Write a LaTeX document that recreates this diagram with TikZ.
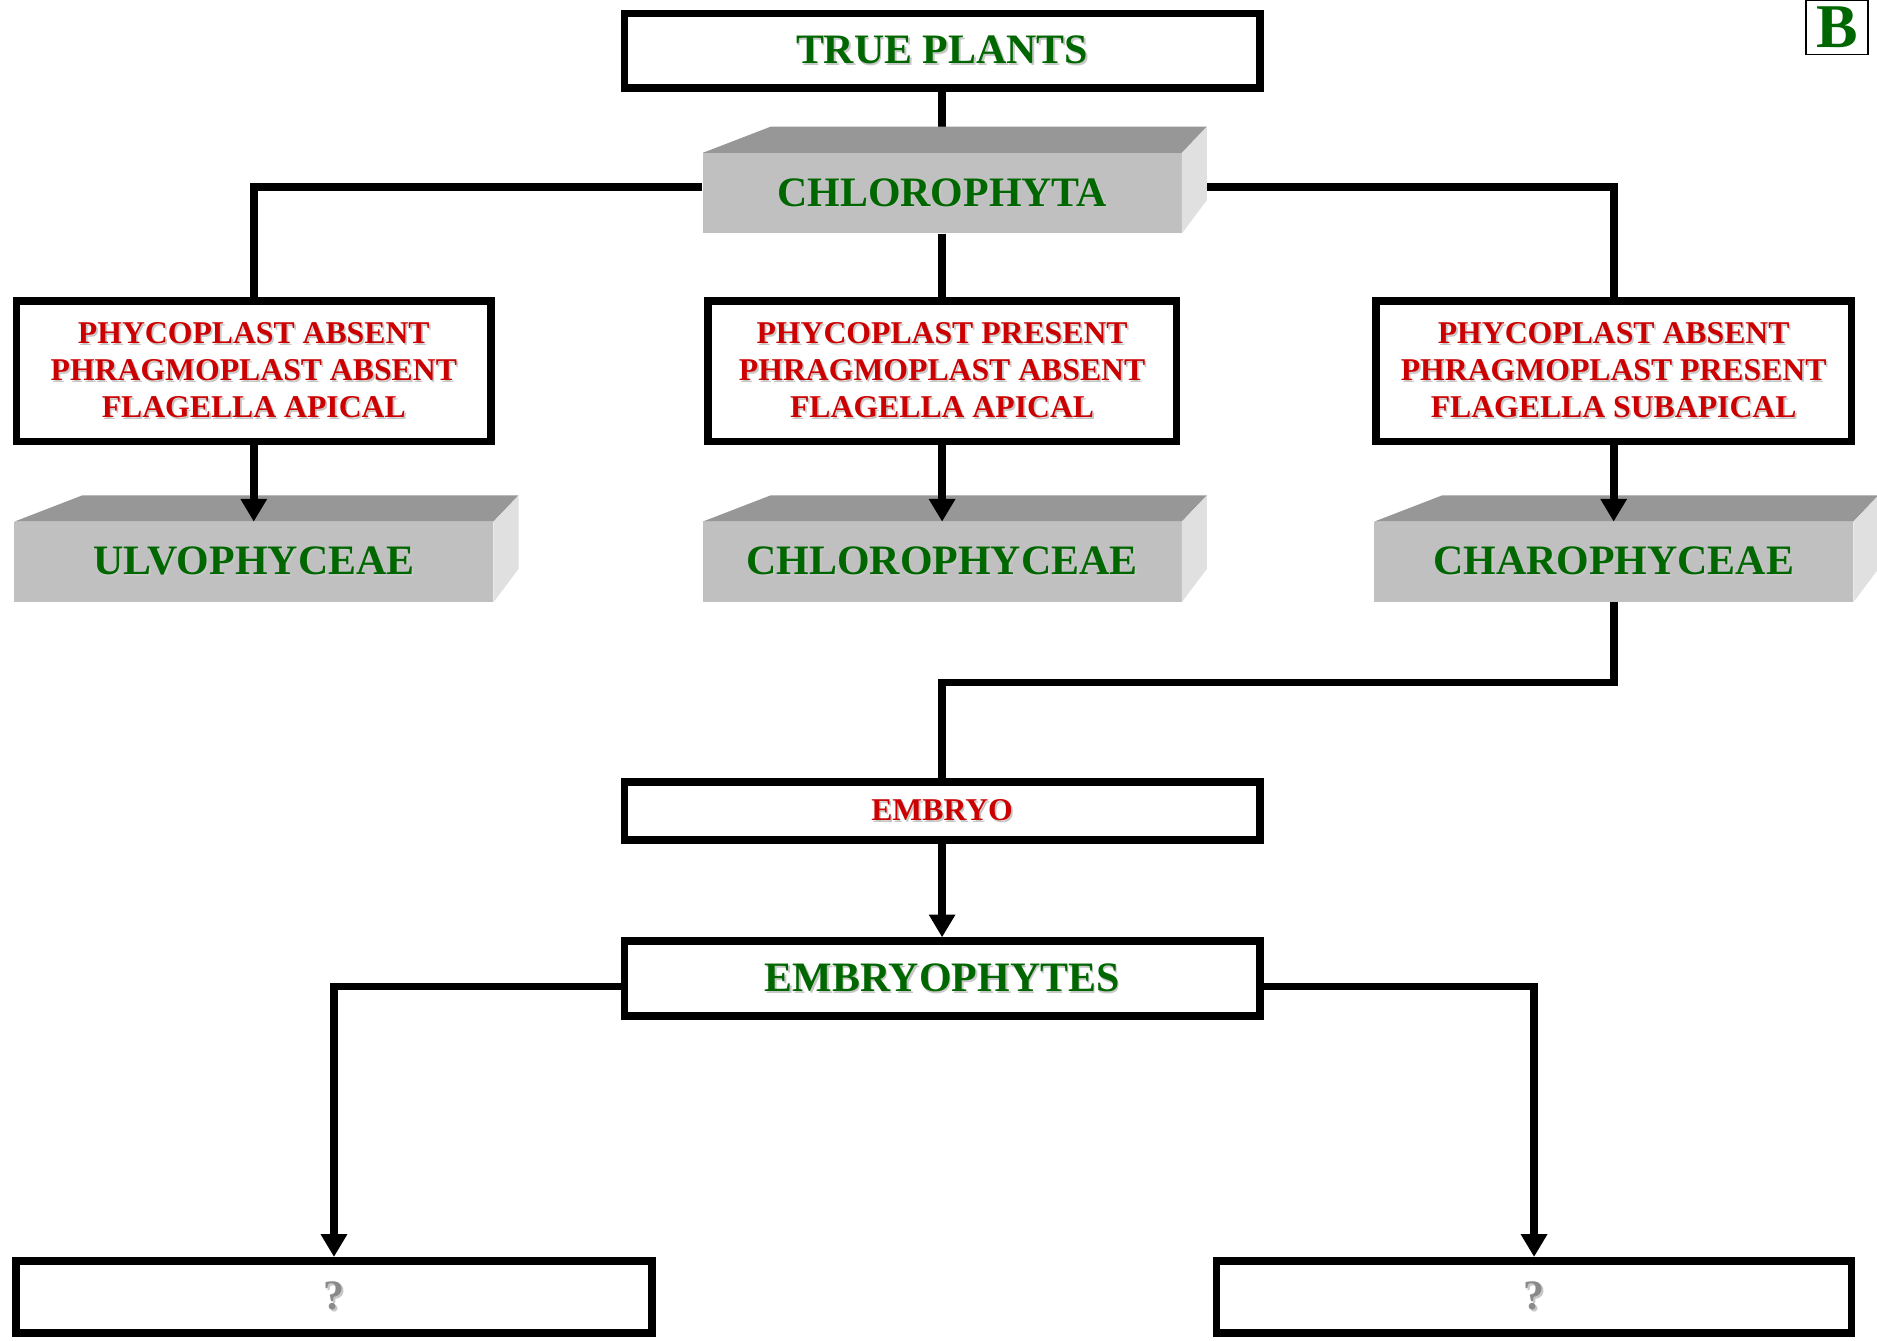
\documentclass[tikz,border=0pt]{standalone}
\usepackage{fontspec}
\setmainfont{Liberation Serif}
\usetikzlibrary{arrows.meta,backgrounds}
\definecolor{tgreen}{HTML}{006600}
\definecolor{tred}{HTML}{CC0000}
\definecolor{topc}{HTML}{979797}
\definecolor{frontc}{HTML}{C0C0C0}
\definecolor{sidec}{HTML}{E0E0E0}
\definecolor{qgray}{HTML}{8A8A8A}
\newcommand\shd[1]{\leavevmode\rlap{\kern1.4pt\raisebox{-1.4pt}{\textcolor{black!22}{#1}}}#1}
\newcommand\threedfaces[1]{%
  \fill[topc] (#1.north west) -- ([shift={(57,-22)}]#1.north west) -- ([shift={(21,-22)}]#1.north east) -- (#1.north east) -- cycle;
  \fill[sidec] (#1.north east) -- ([shift={(21,-22)}]#1.north east) -- ([shift={(21,-28)}]#1.south east) -- (#1.south east) -- cycle;}
\begin{document}
\begin{tikzpicture}[x=1pt,y=-1pt,
  box/.style={draw=black, line width=6.5pt, fill=white, inner sep=0pt, align=center},
  greentxt/.style={text=tgreen, font=\bfseries\fontsize{35}{40}\selectfont},
  redtxt/.style={text=tred, font=\bfseries\fontsize{26.5}{31}\selectfont},
  qtxt/.style={text=qgray, font=\bfseries\fontsize{35}{40}\selectfont},
  front/.style={fill=frontc, inner sep=0pt, minimum width=400pt, minimum height=67pt, greentxt},
  conn/.style={line width=6.5pt},
  arr/.style={conn, -{Triangle[width=21pt,length=19pt]}}]
\useasboundingbox (0,0) rectangle (1568,1119.5);

% boxes
\node[box, greentxt, minimum width=530.5pt, minimum height=62.5pt] (tp) at (787,42.5) {\shd{TRUE PLANTS}};
\node[front] (chl) at (787,161.5) {\shd{CHLOROPHYTA}};

\node[box, redtxt, minimum width=396.5pt, minimum height=117.5pt] (b1) at (212,310)
  {\shd{PHYCOPLAST ABSENT}\\\shd{PHRAGMOPLAST ABSENT}\\\shd{FLAGELLA APICAL}};
\node[box, redtxt, minimum width=391.5pt, minimum height=117.5pt] (b2) at (787,310)
  {\shd{PHYCOPLAST PRESENT}\\\shd{PHRAGMOPLAST ABSENT}\\\shd{FLAGELLA APICAL}};
\node[box, redtxt, minimum width=397.5pt, minimum height=117.5pt] (b3) at (1348,310)
  {\shd{PHYCOPLAST ABSENT}\\\shd{PHRAGMOPLAST PRESENT}\\\shd{FLAGELLA SUBAPICAL}};

\node[front] (ulvo) at (212,469.5) {\shd{ULVOPHYCEAE}};
\node[front] (chlc) at (787,469.5) {\shd{CHLOROPHYCEAE}};
\node[front] (charo) at (1348,469.5) {\shd{CHAROPHYCEAE}};

\node[box, redtxt, minimum width=530.5pt, minimum height=48.5pt] (emb) at (787,677.5) {\shd{EMBRYO}};
\node[box, greentxt, minimum width=530.5pt, minimum height=62.5pt] (ephy) at (787,817.5) {\shd{EMBRYOPHYTES}};

\node[box, qtxt, minimum width=531.5pt, minimum height=60.5pt] (q1) at (279,1083.5) {\shd{?}};
\node[box, qtxt, minimum width=530.5pt, minimum height=60.5pt] (q2) at (1281.5,1083.5) {\shd{?}};

\node[draw=black, line width=1.3pt, fill=white, inner sep=0pt, minimum width=52pt, minimum height=45pt,
  text=tgreen, font=\bfseries\fontsize{52}{56}\selectfont] (blabel) at (1534.5,23) {B};

% 3D faces
\threedfaces{chl}
\threedfaces{ulvo}
\threedfaces{chlc}
\threedfaces{charo}

% connectors behind
\begin{scope}[on background layer]
\draw[conn] (tp.south) -- (chl.north);
\draw[conn] ([yshift=5.5pt]chl.west) -| (b1.north);
\draw[conn] ([yshift=5.5pt]chl.east) -| (b3.north);
\draw[conn] (chl.south) -- (b2.north);
\end{scope}

% arrows
\draw[arr] (b1.south) -- (ulvo.north);
\draw[arr] (b2.south) -- (chlc.north);
\draw[arr] (b3.south) -- (charo.north);
\draw[conn] (charo.south) -- ++(0,67) coordinate (cj) -| (emb.north);
\draw[arr] (emb.south) -- (ephy.north);
\draw[arr] ([yshift=-6.5pt]ephy.west) -| (q1.north);
\draw[arr] ([yshift=-6.5pt]ephy.east) -| (q2.north);
\end{tikzpicture}
\end{document}
